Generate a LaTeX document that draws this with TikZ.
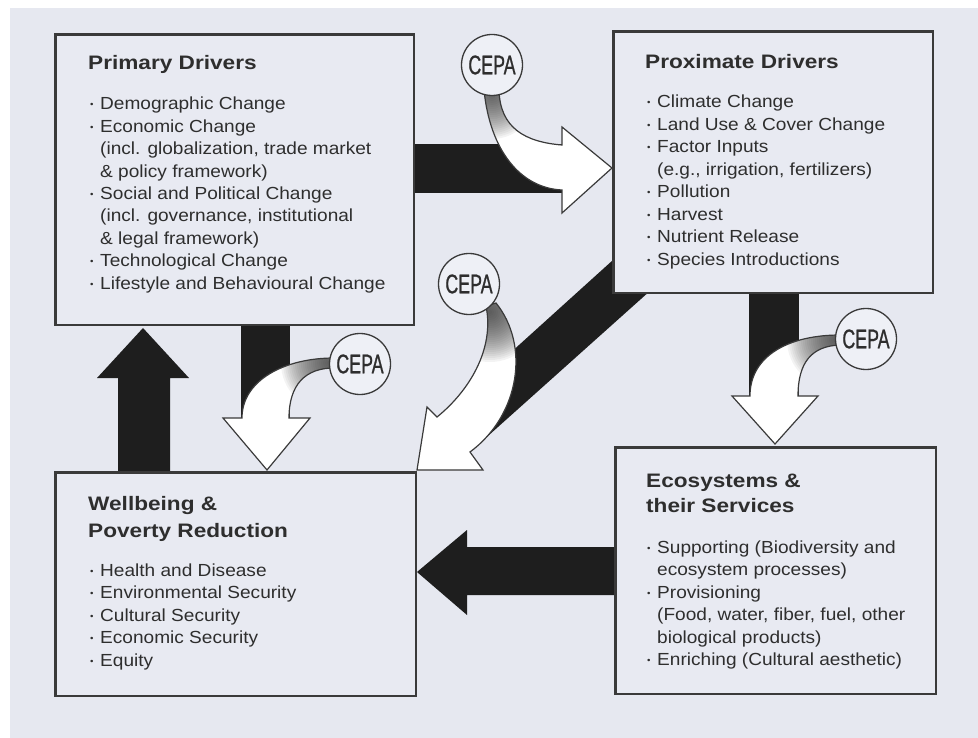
\documentclass[tikz,border=0pt]{standalone}
\usepackage{fontspec}
\setmainfont{Liberation Sans}
\newfontfamily\bodyfont[FakeStretch=1.09]{Liberation Sans}
\newfontfamily\headfont[FakeStretch=1.16]{Liberation Sans}
\newfontfamily\cepafont[FakeStretch=0.66,FakeBold=0.8]{Liberation Sans}
\definecolor{bgc}{HTML}{E6E8F0}
\definecolor{boxfill}{HTML}{E8EAF2}
\definecolor{circfill}{HTML}{EEF0F6}
\definecolor{txt}{HTML}{2E2E2E}
\definecolor{boxc}{HTML}{3A3A3A}
\definecolor{barc}{HTML}{1E1E1E}
\definecolor{shd}{HTML}{333333}
\newcommand\bul{\makebox[10pt][l]{\raisebox{2pt}{\fontsize{9}{9}\selectfont\textbullet}}}
\newcommand\ind{\makebox[10pt]{}}
\newcommand\glow[2]{\foreach \r in {2,4,...,#2} {\fill[shd, opacity=0.055] (#1) circle (\r);}}
\begin{document}
\begin{tikzpicture}[x=1pt,y=-1pt,
  box/.style={draw=boxc, line width=1.6pt, fill=boxfill, inner sep=0pt, anchor=north west},
  item/.style={anchor=base west, inner sep=0pt, font=\bodyfont\fontsize{17.5}{21}\selectfont, text=txt},
  head/.style={anchor=base west, inner sep=0pt, font=\headfont\bfseries\fontsize{19.5}{23}\selectfont, text=txt},
  cepa/.style={circle, draw=boxc, line width=1.3pt, fill=circfill, minimum size=61pt, inner sep=0pt, font=\cepafont\fontsize{27}{27}\selectfont, text=txt},
  warrow/.style={draw=boxc, line width=1.2pt, line join=miter, fill=white},
]
\useasboundingbox (0,0) rectangle (978,738);
\fill[white] (0,0) rectangle (978,738);
\fill[bgc] (10,8) rectangle (978,738);

% boxes
\node[box, minimum width=358pt, minimum height=290pt] (prim) at (55,34) {};
\node[box, minimum width=319pt, minimum height=261pt] (prox) at (613,31) {};
\node[box, minimum width=360pt, minimum height=223pt] (wb) at (55,472) {};
\node[box, minimum width=320pt, minimum height=246pt] (eco) at (615,447) {};

% black bars / arrows
\fill[barc] (prim.east |- 0,144) rectangle (564,193);
\fill[barc] (241,0 |- prim.south) rectangle (290,420);
\fill[barc] (749,0 |- prox.south) rectangle (799,398);
\fill[barc] (430,425.5) -- (prox.west |- 0,260) -- (prox.south west) -- (prox.south -| 647,0) -- (460,461) -- cycle;
\fill[barc] (118,0 |- wb.north) -- (118,378) -- (97,378) -- (143,328) -- (189,378) -- (170,378) -- (170,0 |- wb.north) -- cycle;
\fill[barc] (eco.west |- 0,547) -- (467,547) -- (467,530) -- (417,572) -- (467,615) -- (467,595) -- (eco.west |- 0,595) -- cycle;

% box borders on top of bars
\draw[boxc, line width=1.6pt] (prim.north west) rectangle (prim.south east);
\draw[boxc, line width=1.6pt] (prox.north west) rectangle (prox.south east);
\draw[boxc, line width=1.6pt] (wb.north west) rectangle (wb.south east);
\draw[boxc, line width=1.6pt] (eco.north west) rectangle (eco.south east);

% white CEPA arrows with shading near the circles
\draw[warrow, path picture={\glow{492,95}{44}}]
  (484,90) .. controls (490,150) and (520,188) .. (562,190) -- (562,213) -- (612,168) -- (562,127) -- (562,145) .. controls (525,142) and (500,128) .. (499,90) -- cycle;
\draw[warrow, path picture={\glow{329,363}{48}}]
  (334,358) .. controls (285,358) and (242,380) .. (242,418) -- (223,418) -- (267,470) -- (310,418) -- (289,418) .. controls (289,385) and (305,368) .. (334,368) -- cycle;
\draw[warrow, path picture={\glow{835,340}{48}}]
  (840,335) .. controls (790,335) and (750,355) .. (750,396) -- (732,396) -- (775,444) -- (818,396) -- (798,396) .. controls (798,362) and (812,346) .. (840,345) -- cycle;
\draw[warrow, path picture={\glow{490,312}{50}}]
  (486,306) .. controls (495,350) and (468,392) .. (437,417) -- (427,407) -- (417,470) -- (483,470) -- (470,452) .. controls (520,415) and (530,345) .. (496,303) -- cycle;

% CEPA circles
\node[cepa] (c1) at (492,65) {CEPA};
\node[cepa] (c2) at (469,284) {CEPA};
\node[cepa] (c3) at (360,364) {CEPA};
\node[cepa] (c4) at (866,339) {CEPA};

% Primary Drivers text
\node[head] (pdt) at (88,70) {Primary Drivers};
\node[item] (pd1) at (90,110) {\bul Demographic Change};
\node[item] (pd2) at (90,132.4) {\bul Economic Change};
\node[item] (pd3) at (90,154.8) {\ind(incl. globalization, trade market};
\node[item] (pd4) at (90,177.2) {\ind\& policy framework)};
\node[item] (pd5) at (90,199.6) {\bul Social and Political Change};
\node[item] (pd6) at (90,222) {\ind(incl. governance, institutional};
\node[item] (pd7) at (90,244.4) {\ind\& legal framework)};
\node[item] (pd8) at (90,266.8) {\bul Technological Change};
\node[item] (pd9) at (90,289.2) {\bul Lifestyle and Behavioural Change};

% Proximate Drivers text
\node[head] (pxt) at (645,69) {Proximate Drivers};
\node[item] (px1) at (647,108) {\bul Climate Change};
\node[item] (px2) at (647,130.5) {\bul Land Use \& Cover Change};
\node[item] (px3) at (647,153) {\bul Factor Inputs};
\node[item] (px4) at (647,175.5) {\ind(e.g., irrigation, fertilizers)};
\node[item] (px5) at (647,198) {\bul Pollution};
\node[item] (px6) at (647,220.5) {\bul Harvest};
\node[item] (px7) at (647,243) {\bul Nutrient Release};
\node[item] (px8) at (647,265.5) {\bul Species Introductions};

% Wellbeing text
\node[head] (wbt1) at (88,510) {Wellbeing \&};
\node[head] (wbt2) at (88,537) {Poverty Reduction};
\node[item] (wb1) at (90,576) {\bul Health and Disease};
\node[item] (wb2) at (90,598.5) {\bul Environmental Security};
\node[item] (wb3) at (90,621) {\bul Cultural Security};
\node[item] (wb4) at (90,643.5) {\bul Economic Security};
\node[item] (wb5) at (90,666) {\bul Equity};

% Ecosystems text
\node[head] (ect1) at (646,487) {Ecosystems \&};
\node[head] (ect2) at (646,512) {their Services};
\node[item] (ec1) at (647,553) {\bul Supporting (Biodiversity and};
\node[item] (ec2) at (647,575.5) {\ind ecosystem processes)};
\node[item] (ec3) at (647,598) {\bul Provisioning};
\node[item] (ec4) at (647,620.5) {\ind(Food, water, fiber, fuel, other};
\node[item] (ec5) at (647,643) {\ind biological products)};
\node[item] (ec6) at (647,665.5) {\bul Enriching (Cultural aesthetic)};
\end{tikzpicture}
\end{document}
